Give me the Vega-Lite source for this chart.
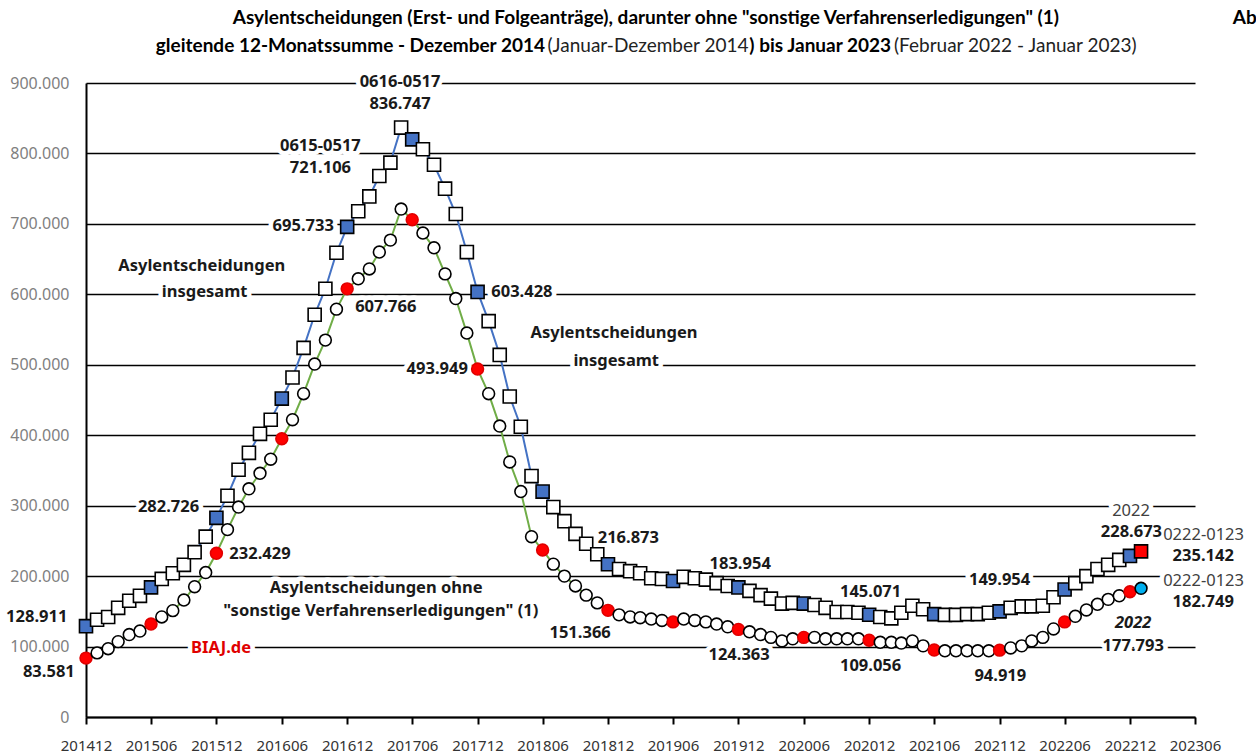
{
  "$schema": "https://vega.github.io/schema/vega-lite/v6.json",
  "width": 1109,
  "height": 634,
  "autosize": {"type": "none"},
  "padding": {"left": 86, "top": 83, "right": 61, "bottom": 36},
  "background": "white",
  "config": {
    "locale": {"number": {"decimal": ",", "thousands": ".", "grouping": [3], "currency": ["", " €"]}},
    "view": {"stroke": null},
    "font": "Noto Sans"
  },
  "datasets": {
    "months": [
      {"date": "201412", "total": 128911, "ohne": 83581},
      {"date": "201501", "total": 138000, "ohne": 91000},
      {"date": "201502", "total": 142000, "ohne": 97000},
      {"date": "201503", "total": 155000, "ohne": 107000},
      {"date": "201504", "total": 165000, "ohne": 117000},
      {"date": "201505", "total": 172000, "ohne": 122000},
      {"date": "201506", "total": 184000, "ohne": 132000},
      {"date": "201507", "total": 196000, "ohne": 142000},
      {"date": "201508", "total": 204000, "ohne": 151000},
      {"date": "201509", "total": 216000, "ohne": 166000},
      {"date": "201510", "total": 234000, "ohne": 185000},
      {"date": "201511", "total": 256000, "ohne": 205000},
      {"date": "201512", "total": 282726, "ohne": 232429},
      {"date": "201601", "total": 314000, "ohne": 266000},
      {"date": "201602", "total": 351000, "ohne": 298000},
      {"date": "201603", "total": 375000, "ohne": 324000},
      {"date": "201604", "total": 402000, "ohne": 346000},
      {"date": "201605", "total": 422000, "ohne": 366000},
      {"date": "201606", "total": 452000, "ohne": 395000},
      {"date": "201607", "total": 482000, "ohne": 422000},
      {"date": "201608", "total": 524000, "ohne": 459000},
      {"date": "201609", "total": 571000, "ohne": 501000},
      {"date": "201610", "total": 608000, "ohne": 535000},
      {"date": "201611", "total": 659000, "ohne": 579000},
      {"date": "201612", "total": 695733, "ohne": 607766},
      {"date": "201701", "total": 718000, "ohne": 622000},
      {"date": "201702", "total": 739000, "ohne": 636000},
      {"date": "201703", "total": 768000, "ohne": 660000},
      {"date": "201704", "total": 787000, "ohne": 677000},
      {"date": "201705", "total": 836747, "ohne": 721106},
      {"date": "201706", "total": 820000, "ohne": 706000},
      {"date": "201707", "total": 806000, "ohne": 687000},
      {"date": "201708", "total": 784000, "ohne": 666000},
      {"date": "201709", "total": 750000, "ohne": 629000},
      {"date": "201710", "total": 714000, "ohne": 594000},
      {"date": "201711", "total": 660000, "ohne": 545000},
      {"date": "201712", "total": 603428, "ohne": 493949},
      {"date": "201801", "total": 562000, "ohne": 459000},
      {"date": "201802", "total": 514000, "ohne": 413000},
      {"date": "201803", "total": 455000, "ohne": 362000},
      {"date": "201804", "total": 412000, "ohne": 320000},
      {"date": "201805", "total": 342000, "ohne": 256000},
      {"date": "201806", "total": 320000, "ohne": 237000},
      {"date": "201807", "total": 298000, "ohne": 217000},
      {"date": "201808", "total": 278000, "ohne": 200000},
      {"date": "201809", "total": 260000, "ohne": 186000},
      {"date": "201810", "total": 246000, "ohne": 173000},
      {"date": "201811", "total": 231000, "ohne": 162000},
      {"date": "201812", "total": 216873, "ohne": 151366},
      {"date": "201901", "total": 210000, "ohne": 145000},
      {"date": "201902", "total": 207000, "ohne": 142000},
      {"date": "201903", "total": 204000, "ohne": 141000},
      {"date": "201904", "total": 197000, "ohne": 139000},
      {"date": "201905", "total": 196000, "ohne": 137000},
      {"date": "201906", "total": 193000, "ohne": 135000},
      {"date": "201907", "total": 199000, "ohne": 139000},
      {"date": "201908", "total": 197000, "ohne": 137000},
      {"date": "201909", "total": 195000, "ohne": 135000},
      {"date": "201910", "total": 190000, "ohne": 132000},
      {"date": "201911", "total": 186000, "ohne": 128000},
      {"date": "201912", "total": 183954, "ohne": 124363},
      {"date": "202001", "total": 179000, "ohne": 121000},
      {"date": "202002", "total": 173000, "ohne": 117000},
      {"date": "202003", "total": 168000, "ohne": 113000},
      {"date": "202004", "total": 161000, "ohne": 108000},
      {"date": "202005", "total": 162000, "ohne": 111000},
      {"date": "202006", "total": 161000, "ohne": 113000},
      {"date": "202007", "total": 159000, "ohne": 113000},
      {"date": "202008", "total": 155000, "ohne": 111000},
      {"date": "202009", "total": 149000, "ohne": 111000},
      {"date": "202010", "total": 149000, "ohne": 111000},
      {"date": "202011", "total": 148000, "ohne": 111000},
      {"date": "202012", "total": 145071, "ohne": 109056},
      {"date": "202101", "total": 142000, "ohne": 106000},
      {"date": "202102", "total": 140000, "ohne": 106000},
      {"date": "202103", "total": 148000, "ohne": 105000},
      {"date": "202104", "total": 158000, "ohne": 108000},
      {"date": "202105", "total": 153000, "ohne": 101000},
      {"date": "202106", "total": 146000, "ohne": 95000},
      {"date": "202107", "total": 145000, "ohne": 94000},
      {"date": "202108", "total": 145000, "ohne": 94000},
      {"date": "202109", "total": 146000, "ohne": 94000},
      {"date": "202110", "total": 146000, "ohne": 94000},
      {"date": "202111", "total": 148000, "ohne": 94000},
      {"date": "202112", "total": 149954, "ohne": 94919},
      {"date": "202201", "total": 155000, "ohne": 98000},
      {"date": "202202", "total": 157000, "ohne": 101000},
      {"date": "202203", "total": 157000, "ohne": 108000},
      {"date": "202204", "total": 158000, "ohne": 113000},
      {"date": "202205", "total": 170000, "ohne": 125000},
      {"date": "202206", "total": 181000, "ohne": 135000},
      {"date": "202207", "total": 190000, "ohne": 143000},
      {"date": "202208", "total": 200000, "ohne": 152000},
      {"date": "202209", "total": 210000, "ohne": 160000},
      {"date": "202210", "total": 216000, "ohne": 167000},
      {"date": "202211", "total": 223000, "ohne": 172000},
      {"date": "202212", "total": 228673, "ohne": 177793},
      {"date": "202301", "total": 235142, "ohne": 182749}
    ],
    "boldLabels": [
      {"date": "2017-04-28T00:00", "value": 901000, "label": "0616-0517"},
      {"date": "2017-04-28T00:00", "value": 870000, "label": "836.747"},
      {"date": "2016-09-17T00:00", "value": 811000, "label": "0615-0517"},
      {"date": "2016-09-17T00:00", "value": 780000, "label": "721.106"},
      {"date": "2016-07-31T00:00", "value": 697000, "label": "695.733"},
      {"date": "2015-10-21T00:00", "value": 640000, "label": "Asylentscheidungen"},
      {"date": "2015-10-29T00:00", "value": 603000, "label": "insgesamt"},
      {"date": "2017-03-19T00:00", "value": 582000, "label": "607.766"},
      {"date": "2018-04-04T00:00", "value": 603000, "label": "603.428"},
      {"date": "2018-12-18T00:00", "value": 545000, "label": "Asylentscheidungen"},
      {"date": "2018-12-24T00:00", "value": 505500, "label": "insgesamt"},
      {"date": "2017-08-10T00:00", "value": 494000, "label": "493.949"},
      {"date": "2015-07-20T00:00", "value": 298000, "label": "282.726"},
      {"date": "2016-04-01T00:00", "value": 231500, "label": "232.429"},
      {"date": "2014-07-16T00:00", "value": 142000, "label": "128.911"},
      {"date": "2014-08-19T00:00", "value": 63900, "label": "83.581"},
      {"date": "2017-02-20T00:00", "value": 183000, "label": "Asylentscheidungen ohne"},
      {"date": "2017-03-05T00:00", "value": 150500, "label": "\"sonstige Verfahrenserledigungen\" (1)"},
      {"date": "2019-01-27T00:00", "value": 254000, "label": "216.873"},
      {"date": "2018-09-14T00:00", "value": 119300, "label": "151.366"},
      {"date": "2019-12-06T00:00", "value": 217000, "label": "183.954"},
      {"date": "2019-12-03T00:00", "value": 88000, "label": "124.363"},
      {"date": "2020-12-05T00:00", "value": 177500, "label": "145.071"},
      {"date": "2020-12-05T00:00", "value": 72400, "label": "109.056"},
      {"date": "2021-12-01T00:00", "value": 194500, "label": "149.954"},
      {"date": "2021-12-03T00:00", "value": 58200, "label": "94.919"},
      {"date": "2022-12-05T00:00", "value": 262600, "label": "228.673"},
      {"date": "2023-06-24T00:00", "value": 228600, "label": "235.142"},
      {"date": "2023-06-24T00:00", "value": 163200, "label": "182.749"},
      {"date": "2022-12-10T00:00", "value": 100800, "label": "177.793"}
    ],
    "plainLabels": [
      {"date": "2022-12-04T00:00", "value": 292400, "label": "2022"},
      {"date": "2023-06-25T00:00", "value": 258400, "label": "0222-0123"},
      {"date": "2023-06-25T00:00", "value": 193100, "label": "0222-0123"}
    ],
    "italicLabels": [
      {"date": "2022-12-10T00:00", "value": 133400, "label": "2022"}
    ],
    "sourceLabel": [
      {"date": "2015-12-14T00:00", "value": 98000, "label": "BIAJ.de"}
    ],
    "titleBold": [
      {"date": "2019-03-17T00:00", "value": 992000, "label": "Asylentscheidungen (Erst- und Folgeanträge), darunter ohne \"sonstige Verfahrenserledigungen\" (1)"},
      {"date": "2016-12-10T00:00", "value": 953000, "label": "gleitende 12-Monatssumme - Dezember 2014"},
      {"date": "2020-07-17T00:00", "value": 953000, "label": ") bis Januar 2023"}
    ],
    "titlePlain": [
      {"date": "2019-03-23T00:00", "value": 953000, "label": "(Januar-Dezember 2014"},
      {"date": "2022-01-14T00:00", "value": 953000, "label": "(Februar 2022 - Januar 2023)"}
    ],
    "cornerLabel": [
      {"date": "2023-09-15T00:00", "value": 992000, "label": "Abbildung"}
    ]
  },
  "encoding": {
    "x": {
      "field": "date",
      "type": "temporal",
      "scale": {"domain": [{"year": 2014, "month": 12, "date": 1}, {"year": 2023, "month": 6, "date": 1}]},
      "axis": {
        "title": null,
        "format": "%Y%m",
        "values": [
          {"year": 2014, "month": 12, "date": 1}, {"year": 2015, "month": 6, "date": 1},
          {"year": 2015, "month": 12, "date": 1}, {"year": 2016, "month": 6, "date": 1},
          {"year": 2016, "month": 12, "date": 1}, {"year": 2017, "month": 6, "date": 1},
          {"year": 2017, "month": 12, "date": 1}, {"year": 2018, "month": 6, "date": 1},
          {"year": 2018, "month": 12, "date": 1}, {"year": 2019, "month": 6, "date": 1},
          {"year": 2019, "month": 12, "date": 1}, {"year": 2020, "month": 6, "date": 1},
          {"year": 2020, "month": 12, "date": 1}, {"year": 2021, "month": 6, "date": 1},
          {"year": 2021, "month": 12, "date": 1}, {"year": 2022, "month": 6, "date": 1},
          {"year": 2022, "month": 12, "date": 1}, {"year": 2023, "month": 6, "date": 1}
        ],
        "grid": false,
        "domainColor": "#000000",
        "domainWidth": 2,
        "tickColor": "#000000",
        "tickWidth": 2,
        "tickSize": 7,
        "labelFont": "Noto Sans",
        "labelFontSize": 15,
        "labelColor": "#333333",
        "labelPadding": 14,
        "labelOverlap": false,
        "labelFlush": false
      }
    },
    "y": {
      "field": "value",
      "type": "quantitative",
      "scale": {"domain": [0, 900000], "nice": false, "zero": true},
      "axis": {
        "title": null,
        "values": [0, 100000, 200000, 300000, 400000, 500000, 600000, 700000, 800000, 900000],
        "format": ",d",
        "grid": true,
        "gridColor": "#000000",
        "gridWidth": 1.6,
        "domainColor": "#000000",
        "domainWidth": 2,
        "ticks": false,
        "labelFont": "Noto Sans",
        "labelFontSize": 16,
        "labelColor": "#7F7F7F",
        "labelPadding": 17
      }
    }
  },
  "layer": [
    {
      "data": {"name": "boldLabels"},
      "mark": {"type": "text", "font": "Noto Sans", "fontSize": 16.5, "fontWeight": "bold", "baseline": "middle", "align": "center", "color": "white", "stroke": "white", "strokeWidth": 9, "strokeJoin": "round"},
      "encoding": {"text": {"field": "label"}}
    },
    {
      "data": {"name": "plainLabels"},
      "mark": {"type": "text", "font": "Noto Sans", "fontSize": 16.5, "baseline": "middle", "align": "center", "color": "white", "stroke": "white", "strokeWidth": 9, "strokeJoin": "round"},
      "encoding": {"text": {"field": "label"}}
    },
    {
      "data": {"name": "italicLabels"},
      "mark": {"type": "text", "font": "Noto Sans", "fontSize": 16.5, "fontWeight": "bold", "fontStyle": "italic", "baseline": "middle", "align": "center", "color": "white", "stroke": "white", "strokeWidth": 9, "strokeJoin": "round"},
      "encoding": {"text": {"field": "label"}}
    },
    {
      "data": {"name": "sourceLabel"},
      "mark": {"type": "text", "font": "Noto Sans", "fontSize": 16.5, "fontWeight": "bold", "baseline": "middle", "align": "center", "color": "white", "stroke": "white", "strokeWidth": 9, "strokeJoin": "round"},
      "encoding": {"text": {"field": "label"}}
    },
    {
      "data": {"name": "months", "format": {"parse": {"date": "date:'%Y%m'"}}},
      "transform": [{"fold": ["total", "ohne"], "as": ["key", "value"]}],
      "layer": [
        {
          "mark": {"type": "line", "strokeWidth": 2},
          "encoding": {
            "color": {"field": "key", "type": "nominal", "scale": {"domain": ["total", "ohne"], "range": ["#4472C4", "#70AD47"]}, "legend": null}
          }
        },
        {
          "transform": [{"filter": "datum.key == 'total'"}],
          "mark": {"type": "point", "shape": "square", "filled": true, "size": 170, "stroke": "#000000", "strokeWidth": 1.6, "opacity": 1},
          "encoding": {
            "fill": {
              "condition": [
                {"test": "year(datum.date) == 2023", "value": "#FF0000"},
                {"test": "month(datum.date) == 5 || month(datum.date) == 11", "value": "#4472C4"}
              ],
              "value": "#FFFFFF"
            }
          }
        },
        {
          "transform": [{"filter": "datum.key == 'ohne'"}],
          "mark": {"type": "point", "shape": "circle", "filled": true, "size": 140, "strokeWidth": 1.6, "opacity": 1},
          "encoding": {
            "fill": {
              "condition": [
                {"test": "year(datum.date) == 2023", "value": "#00B0F0"},
                {"test": "month(datum.date) == 5 || month(datum.date) == 11", "value": "#FF0000"}
              ],
              "value": "#FFFFFF"
            },
            "stroke": {
              "condition": [
                {"test": "year(datum.date) == 2023", "value": "#000000"},
                {"test": "month(datum.date) == 5 || month(datum.date) == 11", "value": "#E00000"}
              ],
              "value": "#000000"
            }
          }
        }
      ]
    },
    {
      "data": {"name": "boldLabels"},
      "mark": {"type": "text", "font": "Noto Sans", "fontSize": 16.5, "fontWeight": "bold", "baseline": "middle", "align": "center", "color": "#1A1A1A"},
      "encoding": {"text": {"field": "label"}}
    },
    {
      "data": {"name": "plainLabels"},
      "mark": {"type": "text", "font": "Noto Sans", "fontSize": 16.5, "baseline": "middle", "align": "center", "color": "#404040"},
      "encoding": {"text": {"field": "label"}}
    },
    {
      "data": {"name": "italicLabels"},
      "mark": {"type": "text", "font": "Noto Sans", "fontSize": 16.5, "fontWeight": "bold", "fontStyle": "italic", "baseline": "middle", "align": "center", "color": "#1A1A1A"},
      "encoding": {"text": {"field": "label"}}
    },
    {
      "data": {"name": "sourceLabel"},
      "mark": {"type": "text", "font": "Noto Sans", "fontSize": 16.5, "fontWeight": "bold", "baseline": "middle", "align": "center", "color": "#E00000"},
      "encoding": {"text": {"field": "label"}}
    },
    {
      "data": {"name": "titleBold"},
      "mark": {"type": "text", "font": "Lato", "fontSize": 19, "fontWeight": "bold", "baseline": "middle", "align": "center", "color": "#000000"},
      "encoding": {"text": {"field": "label"}}
    },
    {
      "data": {"name": "titlePlain"},
      "mark": {"type": "text", "font": "Lato", "fontSize": 19, "baseline": "middle", "align": "center", "color": "#222222"},
      "encoding": {"text": {"field": "label"}}
    },
    {
      "data": {"name": "cornerLabel"},
      "mark": {"type": "text", "font": "Lato", "fontSize": 19, "fontWeight": "bold", "baseline": "middle", "align": "left", "color": "#000000"},
      "encoding": {"text": {"field": "label"}}
    }
  ]
}
